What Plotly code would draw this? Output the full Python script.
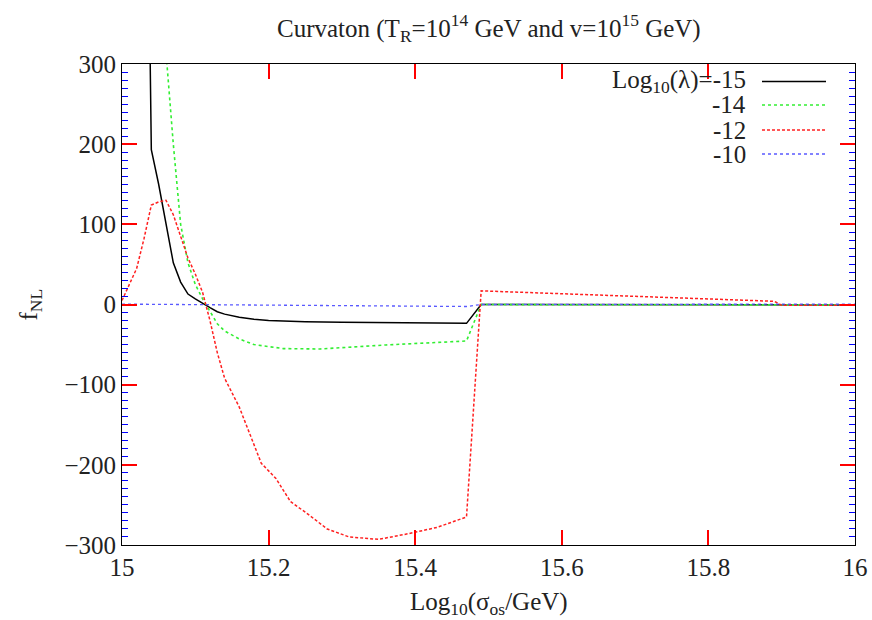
import plotly.graph_objects as go

# ---- data ----
x_m15 = [15.03, 15.04, 15.05, 15.06, 15.07, 15.08, 15.09, 15.10, 15.11, 15.12, 15.13, 15.14,
         15.16, 15.18, 15.20, 15.25, 15.30, 15.35, 15.40, 15.47, 15.49, 15.60, 15.80, 16.00]
y_m15 = [900, 193, 150, 103, 52, 28, 13, 7, 1, -4, -9, -12,
         -16, -18.5, -20, -21.5, -22, -22.5, -23, -23.5, 0, -0.3, -0.4, -0.5]

x_m14 = [15.05, 15.06, 15.07, 15.08, 15.09, 15.10, 15.11, 15.12, 15.13, 15.14, 15.16, 15.18,
         15.22, 15.27, 15.36, 15.47, 15.49, 15.60, 15.80, 16.00]
y_m14 = [520, 315, 200, 100, 52, 25, 7, -8, -24, -33, -43, -50,
         -55, -55.5, -50.5, -45.5, 0, -0.3, -0.4, -0.5]

x_m12 = [15.00, 15.02, 15.03, 15.04, 15.05, 15.06, 15.07, 15.08, 15.09, 15.10, 15.11, 15.12,
         15.13, 15.14, 15.16, 15.19, 15.21, 15.23, 15.25, 15.28, 15.31, 15.35, 15.39, 15.43,
         15.47, 15.49, 15.89, 15.90, 16.00]
y_m12 = [5, 45, 82, 124, 128, 130, 112, 86, 58, 38, 15, -20,
         -60, -92, -128, -198, -217, -246, -259, -280, -290, -293, -286, -278,
         -265, 17, 4, -1, -1]

x_m10 = [15.00, 15.20, 15.40, 15.47, 15.49, 15.70, 16.00]
y_m10 = [0.5, -0.5, -1.8, -2.5, 0, 0.3, 0.5]

x_range = [15, 16]
y_range = [-300, 300]

legend_labels = ["Log<sub>10</sub>(λ)=-15", "-14", "-12", "-10"]

FONT = "Liberation Serif"
FS = 25
W, H = 872, 620
L, R, T, B = 122, 17, 64, 75
PW, PH = W - L - R, H - T - B

styles = [
    dict(color="#000000", width=1.5, dash="solid"),
    dict(color="#33ee33", width=1.6, dash="dot"),
    dict(color="#ff2020", width=1.5, dash="3px,2px"),
    dict(color="#5a5aff", width=1.3, dash="dot"),
]

fig = go.Figure()
for (xs, ys), st in zip([(x_m15, y_m15), (x_m14, y_m14), (x_m12, y_m12), (x_m10, y_m10)], styles):
    fig.add_trace(go.Scatter(x=xs, y=ys, mode="lines", line=st, showlegend=False,
                             hoverinfo="skip"))

fig.update_xaxes(range=x_range, showline=True, linecolor="black", mirror="ticks",
                 ticks="inside", ticklen=15, tickcolor="red", tickwidth=2)
fig.update_yaxes(range=y_range, showline=True, linecolor="black", mirror="ticks",
                 ticks="inside", ticklen=15, tickcolor="red", tickwidth=2,
                 minor=dict(dtick=10, ticks="inside", ticklen=6, tickcolor="blue", tickwidth=1))

annotations = [
    dict(text="Curvaton (T<sub>R</sub>=10<sup>14</sup> GeV and v=10<sup>15</sup> GeV)",
         xref="paper", yref="paper", x=0.5, y=1 + 36 / PH, xanchor="center", yanchor="middle",
         showarrow=False, font=dict(family=FONT, size=FS, color="#222222")),
    dict(text="Log<sub>10</sub>(σ<sub>os</sub>/GeV)",
         xref="paper", yref="paper", x=0.5, y=-58 / PH, xanchor="center", yanchor="middle",
         showarrow=False, font=dict(family=FONT, size=FS, color="#222222")),
    dict(text="f<sub>NL</sub>", textangle=-90,
         xref="paper", yref="paper", x=(30 - L) / PW, y=0.5, xanchor="center", yanchor="middle",
         showarrow=False, font=dict(family=FONT, size=FS, color="#222222")),
]

shapes = []
row_y = [81.5, 105, 130, 154]
for lab, st, py in zip(legend_labels, styles, row_y):
    yp = 1 - (py - T) / PH
    annotations.append(dict(text=lab, xref="paper", yref="paper", x=(748 - L) / PW, y=yp,
                            xanchor="right", yanchor="middle", showarrow=False,
                            font=dict(family=FONT, size=FS, color="#222222")))
    shapes.append(dict(type="line", xref="paper", yref="paper",
                       x0=(762 - L) / PW, x1=(826 - L) / PW, y0=yp, y1=yp,
                       line=dict(color=st["color"], width=st["width"], dash=st["dash"])))

fig.update_layout(width=W, height=H, margin=dict(l=L, r=R, t=T, b=B, autoexpand=False),
                  paper_bgcolor="white", plot_bgcolor="white",
                  annotations=annotations, shapes=shapes,
                  font=dict(family=FONT, size=FS, color="#222222"))

fig.write_html("out.html", config={"displayModeBar": False},
               post_script="document.body.style.margin='0';document.body.style.padding='0';")
